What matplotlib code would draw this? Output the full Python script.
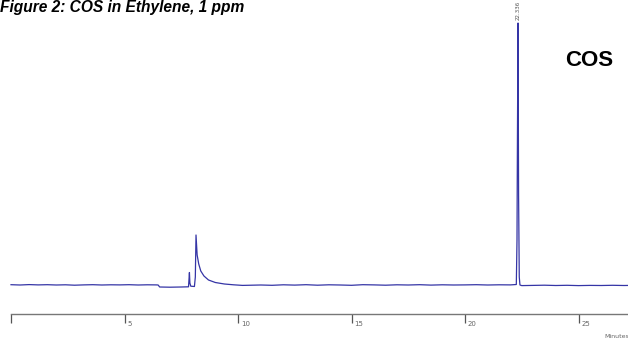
import matplotlib
matplotlib.use("Agg")
import matplotlib.pyplot as plt

# chromatogram trace (time in min, signal in arbitrary units)
time = [0.0, 0.4, 0.8, 1.2, 1.6, 2.0, 2.4, 2.8, 3.2, 3.6, 4.0, 4.4, 4.8, 5.2, 5.6, 6.0, 6.4, 6.48,
        6.55, 7.0, 7.5, 7.82, 7.86, 7.88, 7.92, 8.08, 8.12, 8.15, 8.2, 8.27, 8.36, 8.5, 8.7, 9.0,
        9.4, 9.8, 10.2, 10.6, 11.0, 11.5, 12.0, 12.5, 13.0, 13.5, 14.0, 14.5, 15.0, 15.5, 16.0,
        16.5, 17.0, 17.5, 18.0, 18.5, 19.0, 19.5, 20.0, 20.5, 21.0, 21.5, 22.0, 22.26, 22.29,
        22.31, 22.336, 22.36, 22.39, 22.42, 22.5, 23.0, 23.5, 24.0, 24.5, 25.0, 25.5, 26.0,
        26.5, 27.0, 27.3]
signal = [0.3, 0.0, 0.4, 0.1, 0.3, 0.0, 0.2, -0.2, 0.1, 0.3, 0.0, 0.2, 0.1, 0.3, 0.0, 0.2, 0.1, 0.0,
          -2.0, -2.2, -2.0, -1.8, 12.5, 2.0, -1.2, -1.5, 8.0, 50.0, 30.0, 21.0, 14.0, 9.0, 5.0, 2.5,
          1.0, 0.2, -0.4, -0.2, 0.0, -0.3, 0.2, -0.1, 0.3, -0.2, 0.2, 0.0, -0.3, 0.3, 0.1,
          -0.2, 0.2, 0.0, 0.3, -0.1, 0.2, 0.0, 0.1, 0.3, 0.0, 0.2, 0.1, 0.5, 45.0,
          150.0, 262.0, 90.0, 8.0, 0.0, -0.6, -0.4, -0.2, -0.5, -0.3, -0.6, -0.4, -0.5,
          -0.3, -0.5, -0.4]

ticks = [0, 5, 10, 15, 20, 25]
tick_labels = ["", "5", "10", "15", "20", "25"]
peak_rt = "22.336"
peak_name = "COS"

fig = plt.figure(figsize=(6.28, 3.45), dpi=100)
ax = fig.add_axes([0, 31 / 345, 1, 314 / 345])
ax.plot(time, signal, color="#3535a6", lw=0.9)

xmax = 27.18
ax.set_xlim(-11 / 22.7, xmax)
ax.set_ylim(-29, 285)
for s in ["top", "left", "right"]:
    ax.spines[s].set_visible(False)
ax.spines["bottom"].set_bounds(0, xmax)
ax.spines["bottom"].set_color("#777777")
ax.spines["bottom"].set_linewidth(1.0)
ax.set_yticks([])
ax.set_xticks(ticks)
ax.set_xticklabels([])
ax.tick_params(axis="x", direction="out", length=6.5, width=0.9, color="#555555")
for t, lab in zip(ticks, tick_labels):
    ax.text(t + 0.12, -39, lab, fontsize=5, color="#666666", ha="left", va="center",
            clip_on=False)
ax.text(26.12, -51, "Minutes", fontsize=4.5, color="#666666", ha="left", va="center",
        clip_on=False)

ax.text(22.336, 265, peak_rt, fontsize=4, color="#555555", rotation=90, ha="center",
        va="bottom", clip_on=False)
ax.text(24.4, 225, peak_name, fontsize=16, fontweight="bold", color="black",
        ha="left", va="center", family=["Liberation Sans", "DejaVu Sans"])

fig.text(0.0, 0.999, "Figure 2: COS in Ethylene, 1 ppm", fontsize=11.2, fontweight="bold",
         style="italic", ha="left", va="top",
         family=["Liberation Sans Narrow", "Liberation Sans", "DejaVu Sans"])

fig.savefig("out.png", dpi=100)
